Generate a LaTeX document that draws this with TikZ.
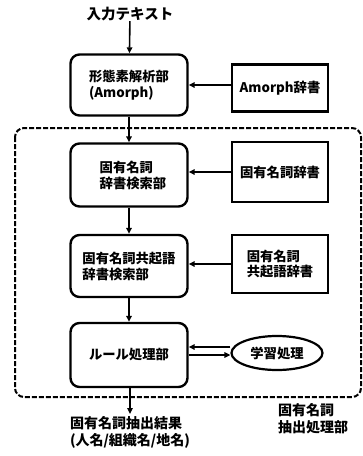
\documentclass[tikz,border=0pt]{standalone}
\usepackage{fontspec}
\newfontfamily\jp{Noto Sans CJK JP}
\usetikzlibrary{arrows.meta,shapes.geometric}
\begin{document}
\begin{tikzpicture}[x=1pt,y=-1pt,
  font=\jp\bfseries\fontsize{13.3}{16}\selectfont,
  proc/.style={draw,line width=2.4pt,rounded corners=9pt,minimum width=117pt,align=left},
  dict/.style={draw,line width=2.2pt,minimum width=96pt,align=left},
  arr/.style={line width=1.6pt,-{Triangle[length=6pt,width=5.5pt]}},
  lbl/.style={align=left,inner sep=0pt,font=\jp\bfseries\fontsize{14}{17}\selectfont}]
\useasboundingbox (0,0) rectangle (363,456);
% dashed region
\draw[line width=2pt,dash pattern=on 5pt off 2pt,rounded corners=9pt] (15,128) rectangle (361,397);
\node[lbl,font=\jp\bfseries\fontsize{14.5}{17}\selectfont] (in) at (130,14) {入力テキスト};
\node[proc,minimum height=61pt] (p1) at (129,85) {形態素解析部\\(Amorph)};
\node[dict,minimum height=47pt] (d1) at (280,88) {Amorph辞書};
\node[proc,minimum height=63pt] (p2) at (129,175) {\hspace*{8pt}固有名詞\\\hspace*{8pt}辞書検索部};
\node[dict,minimum height=60pt] (d2) at (280,172) {固有名詞辞書};
\node[proc,minimum height=62pt] (p3) at (129,266) {固有名詞共起語\\辞書検索部};
\node[dict,minimum height=58pt] (d3) at (280,264) {固有名詞\\共起語辞書};
\node[proc,minimum height=64pt] (p4) at (129,355) {ルール処理部};
\node[draw,ellipse,line width=2.2pt,minimum width=91pt,minimum height=34pt] (e) at (277,353) {学習処理};
\node[lbl] (out) at (130,432) {固有名詞抽出結果\\(人名/組織名/地名)};
\node[lbl] (reg) at (313,419) {固有名詞\\抽出処理部};
\coordinate (outtop) at (130,414);
\draw[arr] (in) -- (p1);
\draw[arr] (d1.west |- 0,85) -- (p1.east |- 0,85);
\draw[arr] (p1) -- (p2);
\draw[arr] (d2) -- (d2 -| p2.east);
\draw[arr] (p2) -- (p3);
\draw[arr] (d3) -- (d3 -| p3.east);
\draw[arr] (p3) -- (p4);
\draw[arr] (e.west |- 0,347) -- (p4.east |- 0,347);
\draw[arr] (p4.east |- 0,355) -- (e.west |- 0,355);
\draw[arr] (p4.south -| outtop) -- (outtop);
\end{tikzpicture}
\end{document}
